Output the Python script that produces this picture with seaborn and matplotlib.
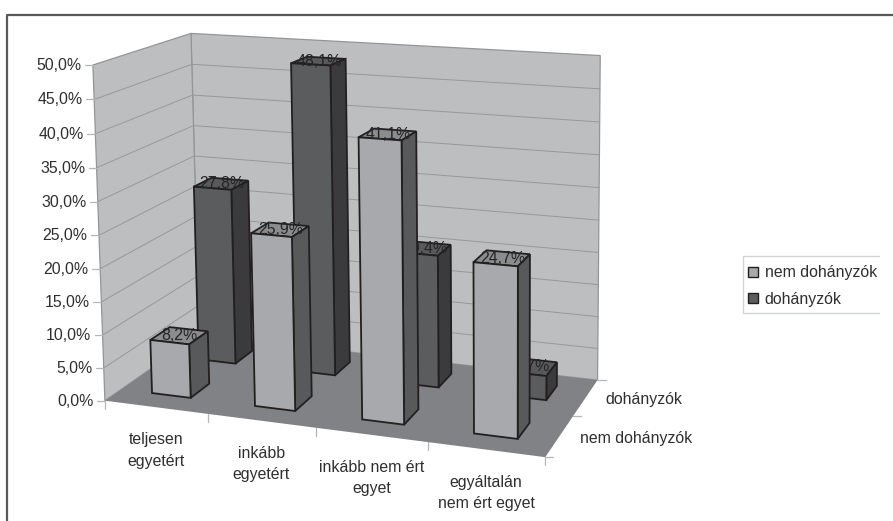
import numpy as np
import seaborn as sns
import matplotlib
matplotlib.use("Agg")
import matplotlib.pyplot as plt
from matplotlib.patches import Patch, Polygon, Rectangle

categories = ["teljesen\negyetért", "inkább\negyetért", "inkább nem ért\negyet", "egyáltalán\nnem ért egyet"]
series_names = ["nem dohányzók", "dohányzók"]
nem_dohanyzok = [8.2, 25.9, 41.1, 24.7]
dohanyzok = [27.8, 48.1, 20.4, 3.7]
value_ticks = [0, 5, 10, 15, 20, 25, 30, 35, 40, 45, 50]

sns.set_theme(style="white", rc={"font.family": ["Liberation Sans", "DejaVu Sans"]})

# front, side and top shades of each series, then the walls and floor
light_shades = sns.color_palette(["#a7a9ac", "#58595b", "#8a8c8e"])
dark_shades = sns.color_palette(["#5b5c5e", "#3b3b3d", "#58595b"])
wall_color, floor_color = sns.color_palette(["#bdbec0", "#808285"])
edge_color = "#231f20"
tick_color = "#b5b6b8"
text_color = "#2f2f31"
AXIS_FONT = 11.4
LABEL_FONT = 11.4

# Camera fit: (category axis, series axis, value axis) -> figure pixels
anchors_3d = np.array([[0, 0, 0], [4, 0, 0], [4, 2, 0], [0, 2, 0],
                       [0, 0, 50], [0, 2, 50], [4, 2, 50]], float)
anchors_px = np.array([[106, 399], [545, 459], [598, 378], [198, 337],
                       [92, 65], [192, 33], [600, 56]], float)


def fit_camera(world, screen):
    rows, rhs = [], []
    for (x, y, z), (u, v) in zip(world, screen):
        rows.append([x, y, z, 1, 0, 0, 0, 0, -u * x, -u * y, -u * z])
        rhs.append(u)
        rows.append([0, 0, 0, 0, x, y, z, 1, -v * x, -v * y, -v * z])
        rhs.append(v)
    sol = np.linalg.lstsq(np.array(rows), np.array(rhs), rcond=None)[0]
    return np.append(sol, 1).reshape(3, 4)


camera = fit_camera(anchors_3d, anchors_px)


def proj(x, y, z):
    p = camera @ np.array([x, y, z, 1.0])
    return p[:2] / p[2]


W, H = 893, 521
fig = plt.figure(figsize=(W / 100, H / 100), dpi=100)
ax = fig.add_axes([0, 0, 1, 1])
ax.set_xlim(0, W)
ax.set_ylim(H, 0)
ax.axis("off")

# Outer chart frame, open at the bottom and right
ax.plot([7, 7, W], [H, 15, 15], color="#58595b", lw=1.6, zorder=1)


def face(points, color, z, edge="none", lw=0.0):
    ax.add_patch(Polygon([proj(*p) for p in points], closed=True, facecolor=color,
                         edgecolor=edge, lw=lw, joinstyle="miter", zorder=z))


# Walls and floor
face([(0, 2, 0), (4, 2, 0), (4, 2, 50), (0, 2, 50)], wall_color, 2, "#949597", 0.9)
face([(0, 0, 0), (0, 2, 0), (0, 2, 50), (0, 0, 50)], wall_color, 2, "#949597", 0.9)
face([(0, 0, 0), (4, 0, 0), (4, 2, 0), (0, 2, 0)], floor_color, 3)

# Gridlines and value axis
for v in value_ticks:
    a, b, c = proj(0, 0, v), proj(0, 2, v), proj(4, 2, v)
    if 0 < v < 50:
        ax.plot([a[0], b[0], c[0]], [a[1], b[1], c[1]], color="#979899", lw=0.7, zorder=2.5)
    ax.plot([a[0] - 8, a[0]], [a[1], a[1]], color=tick_color, lw=0.9, zorder=2.5)
    label = ax.text(a[0] - 11.5, a[1] + 0.5, f"{v:.1f}%".replace(".", ","), ha="right", va="center",
                    fontsize=AXIS_FONT, color=text_color, zorder=4)
    label.set_clip_path(Rectangle((39.5, 0), W, H, transform=ax.transData))

# Category axis ticks and labels
for i in range(len(categories) + 1):
    a = proj(i, 0, 0)
    ax.plot([a[0], a[0]], [a[1], a[1] + 8], color=tick_color, lw=0.9, zorder=2.5)
for i, name in enumerate(categories):
    a = proj(i + 0.5, 0, 0)
    ax.text(a[0], a[1] + 25, name, ha="center", va="top", fontsize=LABEL_FONT,
            linespacing=1.53, color=text_color, zorder=4)

# Series axis ticks and labels
for j in range(3):
    a = proj(4, j, 0)
    ax.plot([a[0], a[0] + 8], [a[1], a[1]], color=tick_color, lw=0.9, zorder=2.5)
for j, name in enumerate(series_names):
    a = proj(4, j + 0.5, 0)
    ax.text(a[0] + 20, a[1] + 2, name, ha="left", va="center",
            fontsize=LABEL_FONT, color=text_color, zorder=4)

BAR_X = (0.305, 0.685)
BAR_Y = (0.32, 0.72)


def draw_bar(i, j, value, shades, z):
    x0, x1 = i + BAR_X[0], i + BAR_X[1]
    y0, y1 = j + BAR_Y[0], j + BAR_Y[1]
    kw = dict(edge=edge_color, lw=1.3)
    face([(x0, y0, value), (x1, y0, value), (x1, y1, value), (x0, y1, value)], shades[2], z, **kw)
    face([(x1, y0, 0), (x1, y1, 0), (x1, y1, value), (x1, y0, value)], shades[1], z + 0.01, **kw)
    face([(x0, y0, 0), (x1, y0, 0), (x1, y0, value), (x0, y0, value)], shades[0], z + 0.02, **kw)
    c = proj(i + 0.5, j + sum(BAR_Y) / 2, value)
    ax.text(c[0], c[1], f"{value:.1f}%".replace(".", ","), ha="center", va="center",
            fontsize=LABEL_FONT, color="#262628", zorder=z + 0.03)


# Painter's order: back row first, left to right within a row
z = 5.0
for j, (values, shades) in reversed(list(enumerate([(nem_dohanyzok, light_shades), (dohanyzok, dark_shades)]))):
    for i, value in enumerate(values):
        draw_bar(i, j, value, shades, z)
        z += 0.1

# Legend: box open on its right side
ax.plot([879, 743, 743, 879], [256, 256, 313, 313], color="#d1d3d4", lw=1.0, zorder=4)
handles = [Patch(facecolor=light_shades[0], edgecolor=edge_color, lw=1.0),
           Patch(facecolor=dark_shades[0], edgecolor=edge_color, lw=1.0)]
ax.legend(handles, series_names, loc="center left", bbox_to_anchor=(745, 286),
          bbox_transform=ax.transData, frameon=False, fontsize=LABEL_FONT, labelcolor=text_color,
          handlelength=0.62, handleheight=0.62, handletextpad=0.42, labelspacing=0.72,
          borderpad=0, borderaxespad=0.2)

fig.savefig("out.png", dpi=100)
